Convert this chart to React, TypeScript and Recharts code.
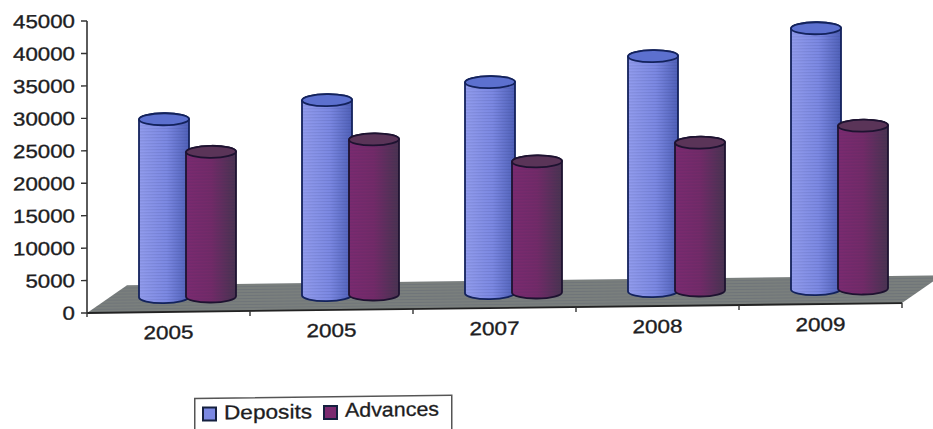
import React from "react";
import { BarChart, Bar, XAxis, YAxis, Legend, ReferenceArea } from "recharts";

const categories = ["2005", "2005", "2007", "2008", "2009"];
const deposits = [27400, 30050, 32500, 36200, 40200];
const advances = [22300, 23900, 20200, 22800, 25100];
const yTicks = [0, 5000, 10000, 15000, 20000, 25000, 30000, 35000, 40000, 45000];

const rows = categories.map((year, i) => ({
  year,
  Deposits: deposits[i],
  Advances: advances[i],
}));

const FONT = "'Liberation Sans', Arial, sans-serif";
const INK = "#1d1d22";
const DEPTH_X = 19;
const DEPTH_Y = 15;
const CAP_RY = 6;
const DIGIT_W = 12.4;

// Upright cylinder standing on the floor plane, pushed back by the depth offset.
function Cylinder(props: any) {
  const { x, y, width, height, body, cap, edge } = props;
  const left = x + DEPTH_X;
  const rx = width / 2;
  const top = y - DEPTH_Y;
  const base = y + height - DEPTH_Y;
  const outline = `M${left},${top} L${left},${base} A${rx},${CAP_RY} 0 0 0 ${left + width},${base} L${left + width},${top} A${rx},${CAP_RY} 0 0 0 ${left},${top} Z`;
  return (
    <g>
      <path d={outline} fill={`url(#${body})`} />
      <path d={outline} fill="url(#scanBands)" />
      <path d={outline} fill="none" stroke={edge} strokeWidth={1.8} strokeLinejoin="round" />
      <ellipse cx={left + rx} cy={top} rx={rx} ry={CAP_RY} fill={cap} stroke={edge} strokeWidth={1.8} />
    </g>
  );
}

// Grey parallelogram the cylinders stand on.
function Floor(props: any) {
  const { x, y, width, height } = props;
  const run = 40;
  const pts = `${x},${y + height} ${x + width},${y + height} ${x + width + run},${y} ${x + run},${y}`;
  return (
    <g>
      <polygon points={pts} fill="#7a7f7d" />
      <polygon points={pts} fill="url(#scanBands)" />
    </g>
  );
}

function YTick(props: any) {
  const { x, y, payload } = props;
  const label = String(payload.value);
  return (
    <text
      x={x}
      y={y + 6.5}
      textAnchor="end"
      fontFamily={FONT}
      fontSize={19}
      fill={INK}
      stroke={INK}
      strokeWidth={0.35}
      textLength={label.length * DIGIT_W}
      lengthAdjust="spacingAndGlyphs"
    >
      {label}
    </text>
  );
}

function XTick(props: any) {
  const { x, y, payload, index } = props;
  const halfBand = 81.5;
  const axisY = y - 8;
  return (
    <g>
      {index === 0 && (
        <line x1={x - halfBand} x2={x - halfBand} y1={axisY} y2={axisY + 4} stroke="#333" strokeWidth={1.4} />
      )}
      <line x1={x + halfBand} x2={x + halfBand} y1={axisY} y2={axisY + 5} stroke="#333" strokeWidth={1.4} />
      <text
        x={x}
        y={axisY + 27}
        textAnchor="middle"
        fontFamily={FONT}
        fontSize={19}
        fill={INK}
        stroke={INK}
        strokeWidth={0.35}
        textLength={50}
        lengthAdjust="spacingAndGlyphs"
      >
        {payload.value}
      </text>
    </g>
  );
}

function LegendBox(props: any) {
  const items = props.payload ?? [];
  const layout: Record<string, { box: number; text: number; w: number; base: number }> = {
    Deposits: { box: 9, text: 30, w: 88, base: 22 },
    Advances: { box: 130, text: 151, w: 94, base: 21 },
  };
  return (
    <svg width={258} height={40} style={{ position: "absolute", left: 0, top: 0, overflow: "visible" }}>
      <rect x={0.75} y={0.75} width={257} height={60} fill="#fff" stroke="#555" strokeWidth={1.5} />
      {items.map((item: any) => {
        const p = layout[item.value];
        if (!p) return null;
        return (
          <g key={item.value}>
            <rect x={p.box} y={10} width={13} height={13} fill={item.color} stroke="#15203f" strokeWidth={2} />
            <text
              x={p.text}
              y={p.base}
              fontFamily={FONT}
              fontSize={20}
              fill={INK}
              stroke={INK}
              strokeWidth={0.3}
              textLength={p.w}
              lengthAdjust="spacingAndGlyphs"
            >
              {item.value}
            </text>
          </g>
        );
      })}
    </svg>
  );
}

export default function App() {
  return (
    <div
      style={{
        position: "absolute",
        left: 0,
        top: 0,
        width: 933,
        height: 429,
        overflow: "hidden",
        background: "#fff",
      }}
    >
      <div style={{ width: 933, height: 429, transform: "skewY(-0.7deg)", transformOrigin: "87px 313px" }}>
        <BarChart
          width={933}
          height={429}
          data={rows}
          margin={{ top: 21, right: 31, bottom: 76, left: 7 }}
          barSize={50}
          barGap={-3}
          barCategoryGap={0}
        >
          <defs>
            <linearGradient id="depositBody" x1="0" x2="1" y1="0" y2="0">
              <stop offset="0" stopColor="#929ced" />
              <stop offset="0.55" stopColor="#7b88e2" />
              <stop offset="1" stopColor="#4f60b8" />
            </linearGradient>
            <linearGradient id="advanceBody" x1="0" x2="1" y1="0" y2="0">
              <stop offset="0" stopColor="#7b2a70" />
              <stop offset="0.5" stopColor="#732a68" />
              <stop offset="1" stopColor="#493350" />
            </linearGradient>
            <pattern id="scanBands" width="4" height="3" patternUnits="userSpaceOnUse">
              <rect width="4" height="1" fill="#20285a" opacity="0.12" />
            </pattern>
          </defs>
          <ReferenceArea y1={0} y2={4200} shape={<Floor />} ifOverflow="visible" />
          <XAxis
            dataKey="year"
            interval={0}
            height={40}
            tickLine={false}
            tick={<XTick />}
            axisLine={{ stroke: "#222", strokeWidth: 1.8 }}
          />
          <YAxis
            width={80}
            domain={[0, 45000]}
            ticks={yTicks}
            interval={0}
            tick={<YTick />}
            tickSize={6}
            tickMargin={6}
            tickLine={{ stroke: "#333", strokeWidth: 1.4 }}
            axisLine={{ stroke: "#333", strokeWidth: 1.6 }}
          />
          <Legend
            content={<LegendBox />}
            wrapperStyle={{ left: 194, top: 399, width: 0, height: 0, bottom: "auto", right: "auto" }}
          />
          <Bar
            dataKey="Deposits"
            fill="#7b88e2"
            isAnimationActive={false}
            shape={<Cylinder body="depositBody" cap="#5c70cf" edge="#13225c" />}
          />
          <Bar
            dataKey="Advances"
            fill="#7b2a70"
            isAnimationActive={false}
            shape={<Cylinder body="advanceBody" cap="#5a3458" edge="#1d1230" />}
          />
        </BarChart>
      </div>
    </div>
  );
}
